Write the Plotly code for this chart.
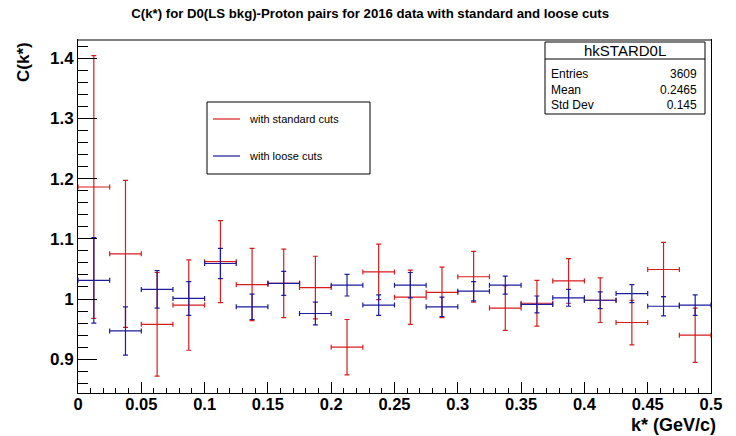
import plotly.graph_objects as go

# Bin centres of k* (GeV/c); each bin is 0.025 wide
k_centers = [0.0125, 0.0375, 0.0625, 0.0875, 0.1125, 0.1375, 0.1625, 0.1875,
             0.2125, 0.2375, 0.2625, 0.2875, 0.3125, 0.3375, 0.3625, 0.3875,
             0.4125, 0.4375, 0.4625, 0.4875]
k_half_width = [0.0125] * 20

# C(k*) with standard cuts
std_vals = [1.186, 1.075, 0.958, 0.990, 1.062, 1.024, 1.026, 1.019, 0.920, 1.045,
            1.003, 1.011, 1.037, 0.985, 0.993, 1.030, 0.998, 0.961, 1.049, 0.940]
std_errs = [0.218, 0.122, 0.086, 0.075, 0.068, 0.060, 0.057, 0.052, 0.046, 0.046,
            0.045, 0.042, 0.042, 0.037, 0.038, 0.037, 0.037, 0.037, 0.045, 0.045]

# C(k*) with loose cuts
loose_vals = [1.031, 0.947, 1.016, 1.001, 1.059, 0.987, 1.026, 0.976, 1.023, 0.990,
              1.023, 0.987, 1.013, 1.023, 0.991, 1.002, 0.998, 1.009, 0.988, 0.990]
loose_errs = [0.071, 0.040, 0.031, 0.028, 0.025, 0.021, 0.020, 0.019, 0.018, 0.017,
              0.021, 0.016, 0.016, 0.015, 0.014, 0.014, 0.014, 0.015, 0.016, 0.017]

legend_labels = ["with standard cuts", "with loose cuts"]
stats_name = "hkSTARD0L"
stats_labels = ["Entries", "Mean", "Std Dev"]
stats_values = ["3609", "0.2465", "0.145"]

RED = "#d81c1c"
BLUE = "#1c1c9c"
FONT = "Liberation Sans"

# Figure geometry (pixels)
W, H = 736, 436
L, R, T, B = 78, 711, 40, 393


def px(x):
    return (x - L) / (R - L)


def py(y):
    return (B - y) / (B - T)


def hist_trace(vals, errs, color):
    return go.Scatter(
        x=k_centers, y=vals, mode="markers",
        marker=dict(size=1, color=color),
        error_x=dict(type="data", array=k_half_width, color=color, thickness=1.2, width=2.5),
        error_y=dict(type="data", array=errs, color=color, thickness=1.2, width=2.5),
        showlegend=False, hoverinfo="skip",
    )


fig = go.Figure()
fig.add_trace(hist_trace(std_vals, std_errs, RED))
fig.add_trace(hist_trace(loose_vals, loose_errs, BLUE))

shapes = []
annotations = []

# Gray top edge of the frame
shapes.append(dict(type="line", xref="paper", yref="paper", x0=0, x1=1, y0=1, y1=1,
                   line=dict(color="#808080", width=2)))

# Legend box
lx0, lx1, ly0, ly1 = 207, 370, 102, 174
shapes.append(dict(type="rect", xref="paper", yref="paper",
                   x0=px(lx0), x1=px(lx1), y0=py(ly1), y1=py(ly0),
                   line=dict(color="black", width=1), fillcolor="white"))
for label, color, yy in zip(legend_labels, [RED, BLUE], [119, 156]):
    shapes.append(dict(type="line", xref="paper", yref="paper",
                       x0=px(213), x1=px(240), y0=py(yy), y1=py(yy),
                       line=dict(color=color, width=1.2)))
    annotations.append(dict(text=label, xref="paper", yref="paper",
                            x=px(247), y=py(yy), xanchor="left", yanchor="middle",
                            showarrow=False, font=dict(family=FONT, size=11, color="black")))

# Statistics box
sx0, sx1, sy0, sy1, sdiv = 545, 705, 42, 114, 59
shapes.append(dict(type="rect", xref="paper", yref="paper", layer="below",
                   x0=px(sx0), x1=px(sx1), y0=py(sy1), y1=py(sy0),
                   line=dict(color="black", width=1), fillcolor="white"))
shapes.append(dict(type="line", xref="paper", yref="paper",
                   x0=px(sx0), x1=px(sx1), y0=py(sdiv), y1=py(sdiv),
                   line=dict(color="black", width=1)))
annotations.append(dict(text=stats_name, xref="paper", yref="paper",
                        x=px((sx0 + sx1) / 2), y=py(50.5), xanchor="center", yanchor="middle",
                        showarrow=False, font=dict(family=FONT, size=15, color="black")))
annotations.append(dict(text="<br>".join(stats_labels), xref="paper", yref="paper",
                        x=px(550), y=py(90), xanchor="left", yanchor="middle", align="left",
                        showarrow=False, borderpad=0,
                        font=dict(family=FONT, size=12, color="black")))
annotations.append(dict(text="<br>".join(stats_values), xref="paper", yref="paper",
                        x=px(698), y=py(90), xanchor="right", yanchor="middle", align="right",
                        showarrow=False, borderpad=0,
                        font=dict(family=FONT, size=12, color="black")))

# Axis titles
annotations.append(dict(text="C(k*)", xref="paper", yref="paper",
                        x=px(23), y=1, xanchor="center", yanchor="top", textangle=-90,
                        showarrow=False, font=dict(family=FONT, size=17, color="black", weight="bold")))
annotations.append(dict(text="k* (GeV/c)", xref="paper", yref="paper",
                        x=px(717), y=py(425), xanchor="right", yanchor="middle",
                        showarrow=False, borderpad=0,
                        font=dict(family=FONT, size=18, color="black", weight="bold")))

fig.update_layout(
    width=W, height=H,
    margin=dict(l=L, r=W - R, t=T, b=H - B),
    paper_bgcolor="white", plot_bgcolor="white",
    title=dict(text="C(k*) for D0(LS bkg)-Proton pairs for 2016 data with standard and loose cuts",
               x=0.503, xref="container", xanchor="center",
               y=1 - 13 / H, yref="container", yanchor="middle",
               font=dict(family=FONT, size=13.2, color="black", weight="bold")),
    shapes=shapes, annotations=annotations,
    showlegend=False,
    xaxis=dict(range=[0, 0.5], tick0=0, dtick=0.05,
               ticks="inside", ticklen=11, tickwidth=1, tickcolor="black",
               minor=dict(dtick=0.01, ticks="inside", ticklen=5.5, tickcolor="black"),
               showline=True, linecolor="black", linewidth=1, mirror=True,
               showgrid=False, zeroline=False, ticklabelstandoff=-4,
               tickfont=dict(family=FONT, size=16.5, color="black", weight="bold")),
    yaxis=dict(range=[0.844, 1.430], tick0=0, dtick=0.1,
               ticks="inside", ticklen=19, tickwidth=1, tickcolor="black",
               minor=dict(dtick=0.02, ticks="inside", ticklen=9.5, tickcolor="black"),
               showline=True, linecolor="black", linewidth=1, mirror=True,
               showgrid=False, zeroline=False,
               tickfont=dict(family=FONT, size=17, color="black", weight="bold")),
)

fig.write_html("out.html")
